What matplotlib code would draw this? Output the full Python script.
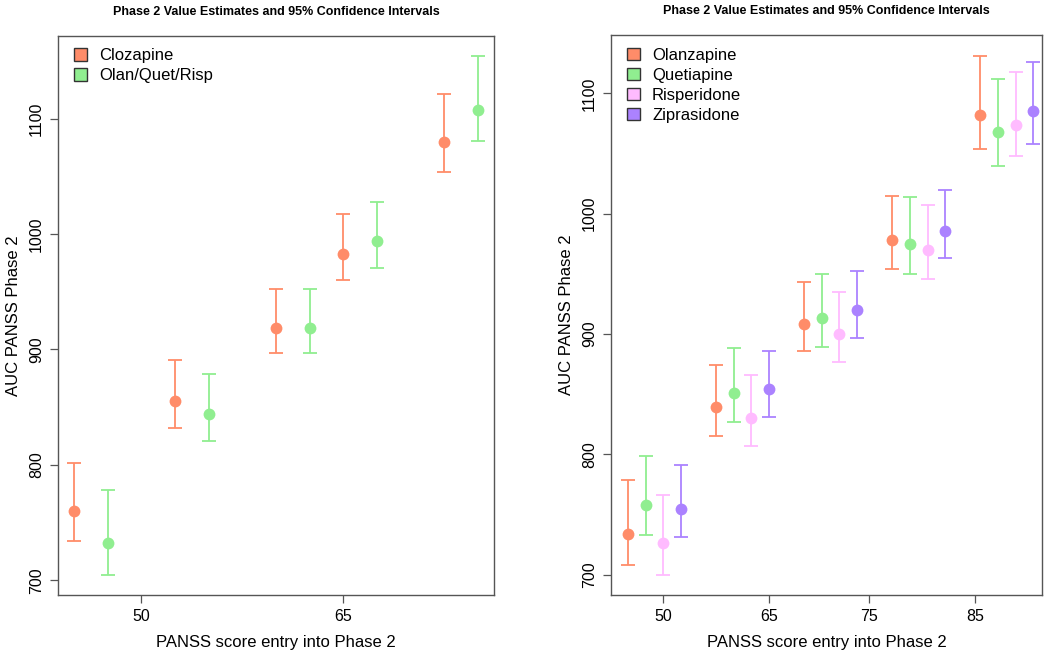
import numpy as np
import matplotlib
matplotlib.use("Agg")
import matplotlib.pyplot as plt
from matplotlib.patches import Patch

plt.rcParams["font.family"] = ["Liberation Sans", "DejaVu Sans"]

# left panel: clozapine vs pooled olan/quet/risp
left_x_cloz = [45, 52.5, 60, 65, 72.5]
left_x_olan = [47.5, 55, 62.5, 67.5, 75]
cloz_est = [760, 855, 919, 983, 1080]
cloz_lo = [734, 832, 897, 960, 1054]
cloz_hi = [802, 891, 952, 1017, 1121]
olan_est = [732, 844, 919, 994, 1107]
olan_lo = [705, 821, 897, 971, 1081]
olan_hi = [778, 879, 952, 1028, 1154]
left_ticks = [50, 65]
left_ticklabels = ["50", "65"]

# right panel: four drugs, positions are plotting slots
right_x = {
    "Olanzapine": [1, 6, 11, 16, 21],
    "Quetiapine": [2, 7, 12, 17, 22],
    "Risperidone": [3, 8, 13, 18, 23],
    "Ziprasidone": [4, 9, 14, 19, 24],
}
olz_est = [734, 839, 908, 978, 1082]
olz_lo = [708, 815, 886, 954, 1054]
olz_hi = [779, 874, 943, 1015, 1131]
que_est = [758, 851, 913, 975, 1068]
que_lo = [733, 827, 889, 950, 1040]
que_hi = [799, 888, 950, 1014, 1112]
ris_est = [726, 830, 900, 970, 1074]
ris_lo = [700, 807, 877, 946, 1048]
ris_hi = [766, 866, 935, 1007, 1118]
zip_est = [755, 854, 920, 986, 1085]
zip_lo = [731, 831, 897, 963, 1058]
zip_hi = [791, 886, 952, 1020, 1126]
right_ticks = [3, 9, 14.7, 20.7]
right_ticklabels = ["50", "65", "75", "85"]

colors = {
    "Clozapine": "#FF8C69",
    "Olan/Quet/Risp": "#90EE90",
    "Olanzapine": "#FF8C69",
    "Quetiapine": "#90EE90",
    "Risperidone": "#FFBBFF",
    "Ziprasidone": "#AB82FF",
}

title = "Phase 2 Value Estimates and 95% Confidence Intervals"
spine_col = "#555555"


def draw_ci(ax, x, est, lo, hi, col):
    est = np.array(est)
    err = [est - np.array(lo), np.array(hi) - est]
    ax.errorbar(x, est, yerr=err, fmt="none", ecolor=col,
                elinewidth=1.3, capsize=5, capthick=1.3)
    ax.plot(x, est, "o", color=col, markersize=8.5, markeredgewidth=0)


def style(ax):
    for s in ax.spines.values():
        s.set_color(spine_col)
        s.set_linewidth(1.0)
    ax.tick_params(direction="out", length=6, width=0.9, color=spine_col,
                   labelsize=11.5, pad=4)
    ax.set_yticks([700, 800, 900, 1000, 1100])
    ax.set_yticklabels(["700", "800", "900", "1000", "1100"], rotation=90,
                       va="center")
    ax.set_xlabel("PANSS score entry into Phase 2", fontsize=12, labelpad=8)
    ax.set_ylabel("AUC PANSS Phase 2", fontsize=12, labelpad=6)


def add_legend(ax, names):
    ax.legend(handles=[Patch(facecolor=colors[k], edgecolor="#333333", label=k)
                       for k in names],
              loc="upper left", bbox_to_anchor=(0.012, 0.997), frameon=False,
              fontsize=12, handlelength=0.75, handleheight=0.75,
              handletextpad=0.75, labelspacing=0.3, borderaxespad=0.25)


fig = plt.figure(figsize=(10.5, 6.51), dpi=100)
ax1 = fig.add_axes([0.0552, 0.086, 0.4152, 0.859])
ax2 = fig.add_axes([0.582, 0.086, 0.4105, 0.860])

draw_ci(ax1, left_x_cloz, cloz_est, cloz_lo, cloz_hi, colors["Clozapine"])
draw_ci(ax1, left_x_olan, olan_est, olan_lo, olan_hi, colors["Olan/Quet/Risp"])
ax1.set_xlim(43.8, 76.2)
ax1.set_ylim(687.3, 1171.7)
ax1.set_xticks(left_ticks)
ax1.set_xticklabels(left_ticklabels)
style(ax1)
ax1.set_title(title, fontsize=9, fontweight="bold", pad=15)
add_legend(ax1, ["Clozapine", "Olan/Quet/Risp"])

draw_ci(ax2, right_x["Olanzapine"], olz_est, olz_lo, olz_hi, colors["Olanzapine"])
draw_ci(ax2, right_x["Quetiapine"], que_est, que_lo, que_hi, colors["Quetiapine"])
draw_ci(ax2, right_x["Risperidone"], ris_est, ris_lo, ris_hi, colors["Risperidone"])
draw_ci(ax2, right_x["Ziprasidone"], zip_est, zip_lo, zip_hi, colors["Ziprasidone"])
ax2.set_xlim(0.04, 24.5)
ax2.set_ylim(683.1, 1148.4)
ax2.set_xticks(right_ticks)
ax2.set_xticklabels(right_ticklabels)
style(ax2)
ax2.set_title(title, fontsize=9, fontweight="bold", pad=15)
add_legend(ax2, ["Olanzapine", "Quetiapine", "Risperidone", "Ziprasidone"])

plt.savefig("out.png", dpi=100)
